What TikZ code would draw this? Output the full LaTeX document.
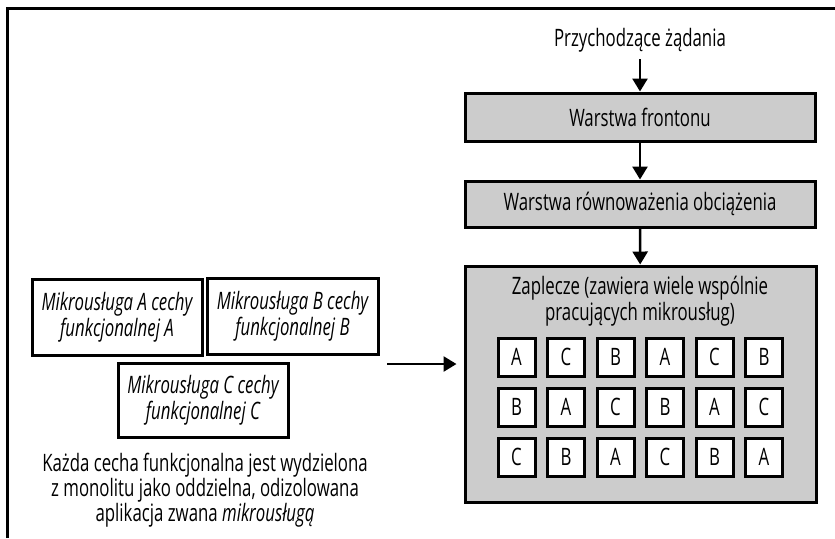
\documentclass[tikz,border=0pt]{standalone}
\usepackage{fontspec}
\setmainfont[FakeStretch=0.7]{Open Sans}
\usetikzlibrary{arrows.meta}

\begin{document}
\begin{tikzpicture}[x=0.5pt,y=-0.5pt,
    font=\fontsize{12}{11.5}\selectfont,
    layer/.style={draw,line width=1.5pt,fill=black!20,minimum width=175pt,inner sep=0pt},
    svc/.style={draw,line width=1.5pt,minimum width=85pt,minimum height=38pt,inner sep=0pt,align=center,font=\fontsize{12}{11.5}\selectfont\itshape},
    cell/.style={draw,line width=1.5pt,fill=white,minimum width=18.5pt,minimum height=19pt,inner sep=0pt},
    arr/.style={line width=1.3pt,-{Triangle[width=7.5pt,length=6.5pt]}}]
    \useasboundingbox (0,0) rectangle (835,538);
    \draw[line width=1.5pt] (7,538) -- (7,8) -- (835,8);
    % right column
    \node (inc) at (640,40) {Przychodzące żądania};
    \node[layer,minimum height=24pt] (front) at (640,117) {Warstwa frontonu};
    \node[layer,minimum height=23pt] (lb) at (640,204) {Warstwa równoważenia obciążenia};
    \node[layer,minimum width=175.5pt,minimum height=118pt] (back) at (640.5,384) {};
    \node[align=center,font=\fontsize{12}{13}\selectfont] (backtitle) at (640,301) {Zaplecze (zawiera wiele wspólnie\\pracujących mikrousług)};
    \foreach [count=\j] \row in {{A,C,B,A,C,B},{B,A,C,B,A,C},{C,B,A,C,B,A}}
        \foreach [count=\i] \l in \row
            \node[cell] (c\j\i) at ({467+49.5*\i},{307+50*\j}) {\l};
    \draw[arr] (inc) -- (front);
    \draw[arr] (front) -- (lb);
    \draw[arr] (lb) -- (back);
    % left column
    \node[svc] (svcA) at (117,317) {Mikrousługa A cechy\\funkcjonalnej A};
    \node[svc,minimum width=85.5pt] (svcB) at (292.5,316.5) {Mikrousługa B cechy\\funkcjonalnej B};
    \node[svc,minimum height=37pt] (svcC) at (203,400) {Mikrousługa C cechy\\funkcjonalnej C};
    \node[align=center,font=\fontsize{12}{12.5}\selectfont] (note) at (205,490) {Każda cecha funkcjonalna jest wydzielona\\z monolitu jako oddzielna, odizolowana\\aplikacja zwana \textit{mikrousługą}};
    \coordinate (src) at (387,364);
    \draw[arr,shorten >=3.5pt] (src) -- (src -| back.west);
\end{tikzpicture}
\end{document}
